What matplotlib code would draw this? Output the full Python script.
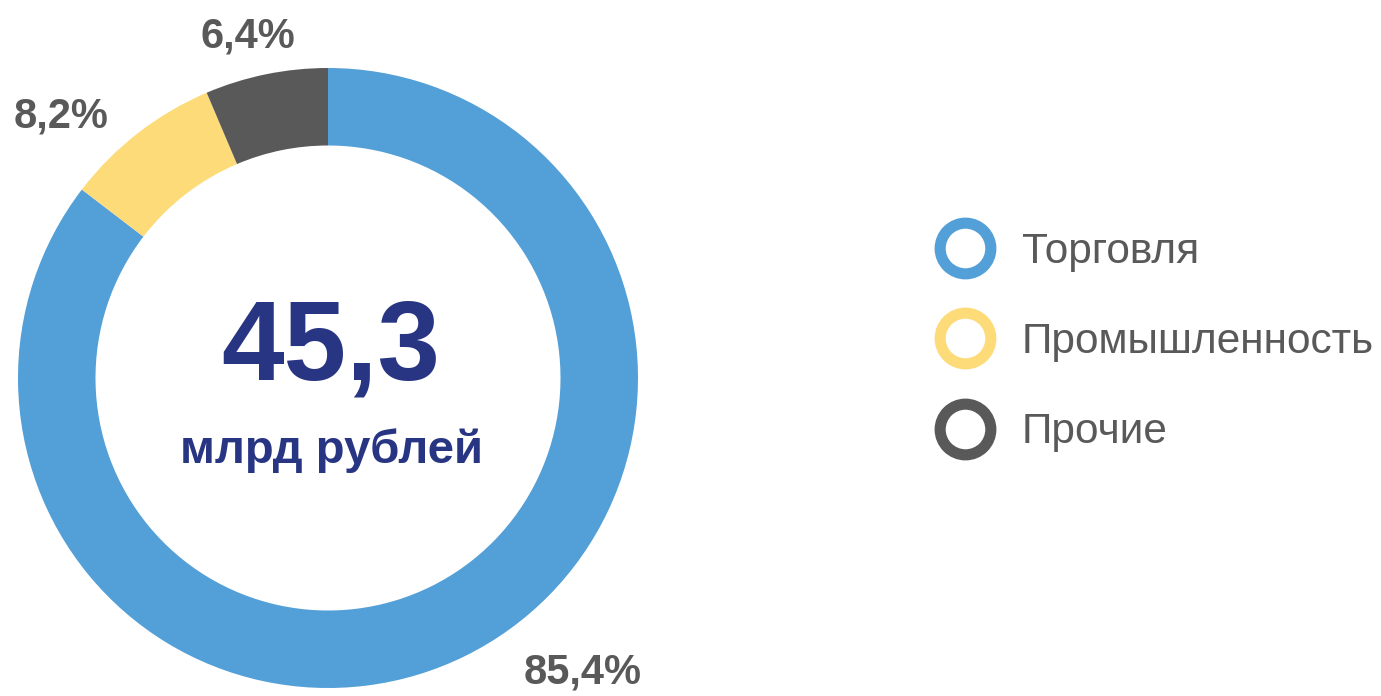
#!/usr/bin/env python3
"""Donut chart: structure of 45,3 bn rubles by sector."""
import matplotlib
matplotlib.use('Agg')
import matplotlib.pyplot as plt
from matplotlib.lines import Line2D

# Data
CATEGORIES = ['Торговля', 'Промышленность', 'Прочие']
SHARES = [85.4, 8.2, 6.4]
SHARE_LABELS = ['85,4%', '8,2%', '6,4%']
TOTAL_LABEL = '45,3'
TOTAL_UNIT = 'млрд рублей'

# Colors
COLORS = ['#539FD7', '#FDDB78', '#595959']
COLOR_TEXT = '#595959'
COLOR_CENTER = '#283583'

plt.rcParams['font.family'] = ['Liberation Sans', 'DejaVu Sans']

W, H, DPI = 1381, 696, 100
fig = plt.figure(figsize=(W / DPI, H / DPI), dpi=DPI)
fig.patch.set_facecolor('white')

# pie axes: centre (328, 378) px, radius 310 px
cx, cy, r = 328, 378, 310
ax = fig.add_axes([(cx - r) / W, (H - cy - r) / H, 2 * r / W, 2 * r / H])
ax.pie(SHARES, colors=COLORS, startangle=90, counterclock=False, radius=1,
       wedgeprops=dict(width=0.25, edgecolor='none'))
ax.set_xlim(-1, 1)
ax.set_ylim(-1, 1)
ax.set_aspect('equal')
ax.axis('off')

# percentage labels (positions relative to the donut)
label_pos = [(0.82, -0.95), (-0.86, 0.845), (-0.26, 1.10)]
for (x, y), txt in zip(label_pos, SHARE_LABELS):
    ax.text(x, y, txt, ha='center', va='center', fontsize=30,
            fontweight='bold', color=COLOR_TEXT, clip_on=False)

# centre text
ax.text(0.01, 0.09, TOTAL_LABEL, ha='center', va='center', fontsize=81,
        fontweight='bold', color=COLOR_CENTER)
ax.text(0.01, -0.235, TOTAL_UNIT, ha='center', va='center', fontsize=34,
        fontweight='bold', color=COLOR_CENTER)

# legend with ring markers
handles = [Line2D([], [], linestyle='none', marker='o', markersize=36.5,
                  markerfacecolor='white', markeredgecolor=c,
                  markeredgewidth=8) for c in COLORS]
fig.legend(handles, CATEGORIES, loc='center left',
           bbox_to_anchor=(934 / W, 1 - 342 / H), frameon=False,
           fontsize=30.5, labelcolor=COLOR_TEXT, handlelength=1.46,
           handletextpad=0.61, labelspacing=1.19, borderpad=0,
           borderaxespad=0)

fig.savefig('out.png', dpi=DPI, facecolor='white')
plt.close(fig)
